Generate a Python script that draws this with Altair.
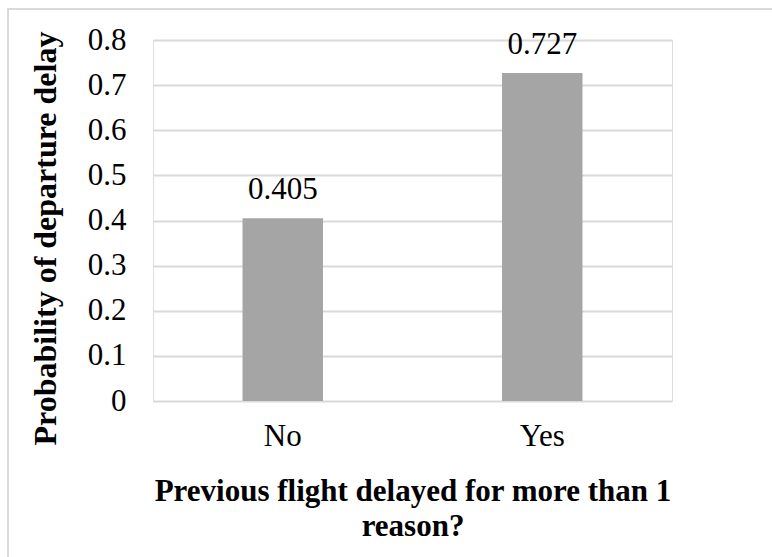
import altair as alt
import pandas as pd

# Delay probability by whether the previous flight was delayed for >1 reason
categories = ["No", "Yes"]
probabilities = [0.405, 0.727]
value_labels = ["0.405", "0.727"]
y_ticks = [0, 0.1, 0.2, 0.3, 0.4, 0.5, 0.6, 0.7, 0.8]

df = pd.DataFrame({"answer": categories, "prob": probabilities, "label": value_labels})

FONT = "Liberation Serif"
GRID = "#d9d9d9"
BAR = "#a5a5a5"
LABEL_SIZE = 31

x_enc = alt.X(
    "answer:N",
    sort=categories,
    scale=alt.Scale(paddingInner=0.69, paddingOuter=0.345),
    axis=alt.Axis(
        title=["Previous flight delayed for more than 1", "reason?"],
        labelAngle=0,
        labelFont=FONT,
        labelFontSize=LABEL_SIZE,
        labelColor="#000000",
        labelPadding=20,
        domain=False,
        ticks=False,
        titleFont=FONT,
        titleFontSize=31,
        titleFontWeight="bold",
        titleColor="#000000",
        titleBaseline="alphabetic",
        titleY=99,
        titleLineHeight=35,
    ),
)

y_enc = alt.Y(
    "prob:Q",
    scale=alt.Scale(domain=[0, 0.8], nice=False),
    axis=alt.Axis(
        values=y_ticks,
        labelExpr="datum.value == 0 ? '0' : format(datum.value, '.1f')",
        title="Probability of departure delay",
        labelFont=FONT,
        labelFontSize=LABEL_SIZE,
        labelColor="#000000",
        labelPadding=27,
        domain=False,
        ticks=False,
        grid=True,
        gridColor=GRID,
        gridWidth=2,
        titleFont=FONT,
        titleFontSize=32,
        titleFontWeight="bold",
        titleColor="#000000",
        titleX=-108,
        titleY=198,
        titleBaseline="middle",
        titleAlign="center",
        titleAngle=270,
    ),
)

bars = alt.Chart(df).mark_bar(color=BAR).encode(x=x_enc, y=y_enc)

labels = alt.Chart(df).mark_text(
    font=FONT, fontSize=LABEL_SIZE, color="#000000", baseline="alphabetic", dy=-19
).encode(x=alt.X("answer:N", sort=categories), y="prob:Q", text="label:N")

frame = alt.Chart(df).mark_rect(
    fill=None, stroke="#d9d9d9", strokeWidth=2, clip=False
).encode(
    x=alt.value(-145), x2=alt.value(660), y=alt.value(-31), y2=alt.value(560)
)

chart = (
    alt.layer(frame, bars, labels)
    .properties(
        width=519,
        height=361,
        autosize=alt.AutoSizeParams(type="none"),
        padding={"left": 153, "top": 40, "right": 100, "bottom": 156},
    )
    .configure_view(stroke=None)
    .configure(background="#ffffff")
)

chart.save("out.html", embed_options={"renderer": "svg", "actions": False})
